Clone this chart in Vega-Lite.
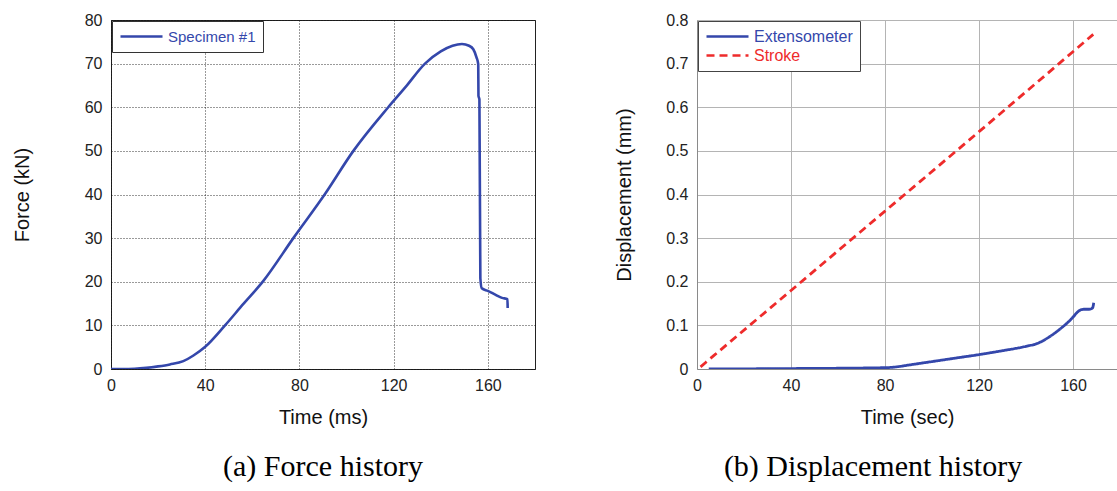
{
  "$schema": "https://vega.github.io/schema/vega-lite/v6.json",
  "autosize": {"type": "pad"},
  "padding": {"left": 11, "top": 11, "right": 0, "bottom": 0},
  "background": "#ffffff",
  "config": {
    "font": "Liberation Sans",
    "view": {"stroke": null},
    "title": {"font": "Liberation Serif", "fontSize": 30, "fontWeight": "normal", "color": "#000000"},
    "axis": {
      "ticks": false,
      "labelFontSize": 16,
      "labelColor": "#222222",
      "titleFontSize": 20,
      "titleFontWeight": "normal",
      "titleColor": "#111111",
      "labelFlush": false
    }
  },
  "resolve": {
    "scale": {"color": "independent", "strokeDash": "independent"},
    "legend": {"color": "independent", "strokeDash": "independent"}
  },
  "spacing": 78,
  "hconcat": [
    {
      "width": 424,
      "height": 349,
      "view": {"stroke": "#222222", "strokeWidth": 1},
      "title": {"text": "(a) Force history", "orient": "bottom", "anchor": "middle", "frame": "group", "offset": 25},
      "data": {
        "values": [
          {"t": 0, "force": 0, "series": "Specimen #1"},
          {"t": 5, "force": 0, "series": "Specimen #1"},
          {"t": 10, "force": 0.05, "series": "Specimen #1"},
          {"t": 15, "force": 0.25, "series": "Specimen #1"},
          {"t": 20, "force": 0.6, "series": "Specimen #1"},
          {"t": 25, "force": 1.05, "series": "Specimen #1"},
          {"t": 30.7, "force": 1.8, "series": "Specimen #1"},
          {"t": 35, "force": 3.1, "series": "Specimen #1"},
          {"t": 40, "force": 5.1, "series": "Specimen #1"},
          {"t": 48.4, "force": 10.0, "series": "Specimen #1"},
          {"t": 56, "force": 14.8, "series": "Specimen #1"},
          {"t": 64.7, "force": 20.2, "series": "Specimen #1"},
          {"t": 77.4, "force": 30.0, "series": "Specimen #1"},
          {"t": 90.7, "force": 40.0, "series": "Specimen #1"},
          {"t": 102.9, "force": 50.0, "series": "Specimen #1"},
          {"t": 117.7, "force": 60.0, "series": "Specimen #1"},
          {"t": 125, "force": 64.6, "series": "Specimen #1"},
          {"t": 133.3, "force": 70.0, "series": "Specimen #1"},
          {"t": 140, "force": 72.8, "series": "Specimen #1"},
          {"t": 145, "force": 74.1, "series": "Specimen #1"},
          {"t": 149, "force": 74.5, "series": "Specimen #1"},
          {"t": 152, "force": 74.1, "series": "Specimen #1"},
          {"t": 153.8, "force": 73.3, "series": "Specimen #1"},
          {"t": 155.2, "force": 71.4, "series": "Specimen #1"},
          {"t": 155.9, "force": 69.9, "series": "Specimen #1"},
          {"t": 156.0, "force": 62.6, "series": "Specimen #1"},
          {"t": 156.4, "force": 61.8, "series": "Specimen #1"},
          {"t": 156.8, "force": 20.8, "series": "Specimen #1"},
          {"t": 157.4, "force": 18.5, "series": "Specimen #1"},
          {"t": 160, "force": 17.9, "series": "Specimen #1"},
          {"t": 163.3, "force": 17.0, "series": "Specimen #1"},
          {"t": 166, "force": 16.3, "series": "Specimen #1"},
          {"t": 168.3, "force": 16.0, "series": "Specimen #1"},
          {"t": 168.4, "force": 14.0, "series": "Specimen #1"}
        ]
      },
      "mark": {"type": "line", "strokeWidth": 2.6, "interpolate": "monotone", "clip": true},
      "encoding": {
        "x": {
          "field": "t", "type": "quantitative",
          "scale": {"domain": [0, 180], "nice": false},
          "axis": {
            "title": "Time (ms)", "values": [0, 40, 80, 120, 160], "domain": false,
            "labelPadding": 8, "titlePadding": 14,
            "gridColor": "#111111", "gridDash": [1, 2], "gridOpacity": 0.85
          }
        },
        "y": {
          "field": "force", "type": "quantitative",
          "scale": {"domain": [0, 80], "nice": false},
          "axis": {
            "title": "Force (kN)", "values": [0, 10, 20, 30, 40, 50, 60, 70, 80], "domain": false,
            "labelPadding": 9, "titlePadding": 52,
            "gridColor": "#111111", "gridDash": [1, 2], "gridOpacity": 0.85
          }
        },
        "order": {"field": "t", "type": "quantitative"},
        "color": {
          "field": "series", "type": "nominal",
          "scale": {"domain": ["Specimen #1"], "range": ["#3447ab"]},
          "legend": {
            "title": null, "orient": "top-left", "offset": 1,
            "strokeColor": "#333333", "fillColor": "#ffffff", "padding": 7,
            "symbolType": "M-1,0H5", "symbolSize": 196, "symbolStrokeWidth": 2.5,
            "labelFontSize": 15, "labelOffset": 32,
            "encode": {"labels": {"update": {"fill": {"value": "#3447ab"}}}}
          }
        }
      }
    },
    {
      "width": 420,
      "height": 349,
      "title": {"text": "(b) Displacement history", "orient": "bottom", "anchor": "middle", "frame": "group", "offset": 25, "dx": -34},
      "data": {
        "values": [
          {"t": 5, "disp": 0, "series": "Extensometer"},
          {"t": 40, "disp": 0.001, "series": "Extensometer"},
          {"t": 80, "disp": 0.003, "series": "Extensometer"},
          {"t": 85, "disp": 0.005, "series": "Extensometer"},
          {"t": 90, "disp": 0.009, "series": "Extensometer"},
          {"t": 100, "disp": 0.017, "series": "Extensometer"},
          {"t": 110, "disp": 0.025, "series": "Extensometer"},
          {"t": 120, "disp": 0.033, "series": "Extensometer"},
          {"t": 130, "disp": 0.042, "series": "Extensometer"},
          {"t": 140, "disp": 0.052, "series": "Extensometer"},
          {"t": 145, "disp": 0.059, "series": "Extensometer"},
          {"t": 150, "disp": 0.074, "series": "Extensometer"},
          {"t": 155, "disp": 0.094, "series": "Extensometer"},
          {"t": 158, "disp": 0.108, "series": "Extensometer"},
          {"t": 160, "disp": 0.119, "series": "Extensometer"},
          {"t": 162, "disp": 0.131, "series": "Extensometer"},
          {"t": 163.5, "disp": 0.136, "series": "Extensometer"},
          {"t": 165, "disp": 0.137, "series": "Extensometer"},
          {"t": 167, "disp": 0.137, "series": "Extensometer"},
          {"t": 168.3, "disp": 0.140, "series": "Extensometer"},
          {"t": 168.8, "disp": 0.152, "series": "Extensometer"},
          {"t": 1.5, "disp": 0.005, "series": "Stroke"},
          {"t": 40, "disp": 0.180, "series": "Stroke"},
          {"t": 80, "disp": 0.362, "series": "Stroke"},
          {"t": 120, "disp": 0.544, "series": "Stroke"},
          {"t": 168.6, "disp": 0.767, "series": "Stroke"}
        ]
      },
      "mark": {"type": "line", "strokeWidth": 2.8, "interpolate": "monotone", "clip": true},
      "encoding": {
        "x": {
          "field": "t", "type": "quantitative",
          "scale": {"domain": [0, 178.7], "nice": false},
          "axis": {
            "title": "Time (sec)", "values": [0, 40, 80, 120, 160],
            "domainColor": "#8a8a8a",
            "labelPadding": 8, "titlePadding": 14,
            "gridColor": "#b4b4b4", "gridOpacity": 1
          }
        },
        "y": {
          "field": "disp", "type": "quantitative",
          "scale": {"domain": [0, 0.8], "nice": false},
          "axis": {
            "title": "Displacement (mm)", "values": [0, 0.1, 0.2, 0.3, 0.4, 0.5, 0.6, 0.7, 0.8],
            "format": ".1~f", "domainColor": "#8a8a8a",
            "labelPadding": 9, "titlePadding": 31,
            "gridColor": "#b4b4b4", "gridOpacity": 1
          }
        },
        "order": {"field": "t", "type": "quantitative"},
        "color": {
          "field": "series", "type": "nominal",
          "scale": {"domain": ["Extensometer", "Stroke"], "range": ["#3447ab", "#ee2b2b"]},
          "legend": {
            "title": null, "orient": "top-left", "offset": 1,
            "strokeColor": "#444444", "fillColor": "#ffffff", "padding": 7, "rowPadding": 2,
            "symbolType": "M-1,0H5", "symbolSize": 196, "symbolStrokeWidth": 2.5,
            "labelFontSize": 16, "labelOffset": 32,
            "encode": {"labels": {"update": {"fill": {"signal": "datum.value === 'Stroke' ? '#ee2b2b' : '#3447ab'"}}}}
          }
        },
        "strokeDash": {
          "field": "series", "type": "nominal",
          "scale": {"domain": ["Extensometer", "Stroke"], "range": [[1, 0], [8, 5]]},
          "legend": {
            "title": null, "orient": "top-left", "offset": 1,
            "strokeColor": "#444444", "fillColor": "#ffffff", "padding": 7, "rowPadding": 2,
            "symbolType": "M-1,0H5", "symbolSize": 196, "symbolStrokeWidth": 2.5,
            "labelFontSize": 16, "labelOffset": 32,
            "encode": {"labels": {"update": {"fill": {"signal": "datum.value === 'Stroke' ? '#ee2b2b' : '#3447ab'"}}}}
          }
        }
      }
    }
  ]
}
